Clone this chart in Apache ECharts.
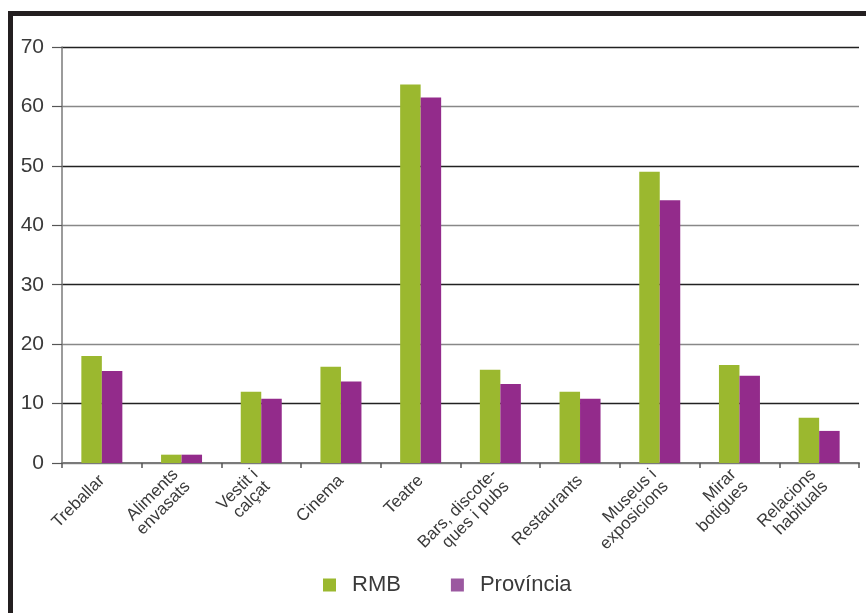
<!DOCTYPE html>
<html><head><meta charset="utf-8">
<script src="https://cdn.jsdelivr.net/npm/echarts@6/dist/echarts.min.js"></script>
<style>html,body{margin:0;padding:0;background:#fff}#c{width:866px;height:613px}</style>
</head><body><div id="c"></div>
<script>
const categories = ['Treballar','Aliments\nenvasats','Vestit i\ncalçat','Cinema','Teatre','Bars, discote-\nques i pubs','Restaurants','Museus i\nexposicions','Mirar\nbotigues','Relacions\nhabituals'];
const rmb = [18.0, 1.4, 12.0, 16.2, 63.7, 15.7, 12.0, 49.0, 16.5, 7.6];
const provincia = [15.5, 1.4, 10.8, 13.7, 61.5, 13.3, 10.8, 44.2, 14.7, 5.4];
const yTicks = {min: 0, max: 70, interval: 10};

const chart = echarts.init(document.getElementById('c'), null, {renderer: 'canvas'});
const font = 'Liberation Sans, Arial, sans-serif';
chart.setOption({
  animation: false,
  backgroundColor: '#fff',
  graphic: [
    {type: 'rect', shape: {x: 8, y: 11, width: 5, height: 602}, style: {fill: '#231f20'}},
    {type: 'rect', shape: {x: 8, y: 11, width: 858, height: 5}, style: {fill: '#231f20'}}
  ],
  grid: {left: 62, right: 7, top: 47, bottom: 150},
  legend: {
    bottom: 12, left: 318, itemWidth: 13, itemHeight: 13, itemGap: 50,
    icon: 'rect',
    textStyle: {fontFamily: font, fontSize: 22, color: '#3a3a3a', padding: [0, 0, 0, 11]},
    data: [{name: 'RMB', itemStyle: {color: '#9bb82f'}}, {name: 'Província', itemStyle: {color: '#9b58a0'}}]
  },
  xAxis: {
    type: 'category', data: categories,
    axisLine: {lineStyle: {color: '#7a7a7a', width: 2}},
    axisTick: {show: true, length: 5, lineStyle: {color: '#555', width: 1.5}},
    axisLabel: {rotate: 45, interval: 0, fontFamily: font, fontSize: 17, color: '#3a3a3a', margin: 15, lineHeight: 17}
  },
  yAxis: {
    type: 'value', min: yTicks.min, max: yTicks.max, interval: yTicks.interval,
    axisLine: {show: true, lineStyle: {color: '#7a7a7a', width: 1.5}},
    axisTick: {show: true, length: 10, lineStyle: {color: '#555', width: 1.2}},
    axisLabel: {fontFamily: font, fontSize: 21, color: '#3a3a3a', margin: 18},
    splitLine: {show: true, lineStyle: {color: ['#888', '#222'], width: 1.3}}
  },
  series: [
    {name: 'RMB', type: 'bar', data: rmb, barWidth: 20.5, barGap: '0%', itemStyle: {color: '#9bb82f'}},
    {name: 'Província', type: 'bar', data: provincia, barWidth: 20.5, itemStyle: {color: '#932b8b'}}
  ]
});
</script></body></html>
